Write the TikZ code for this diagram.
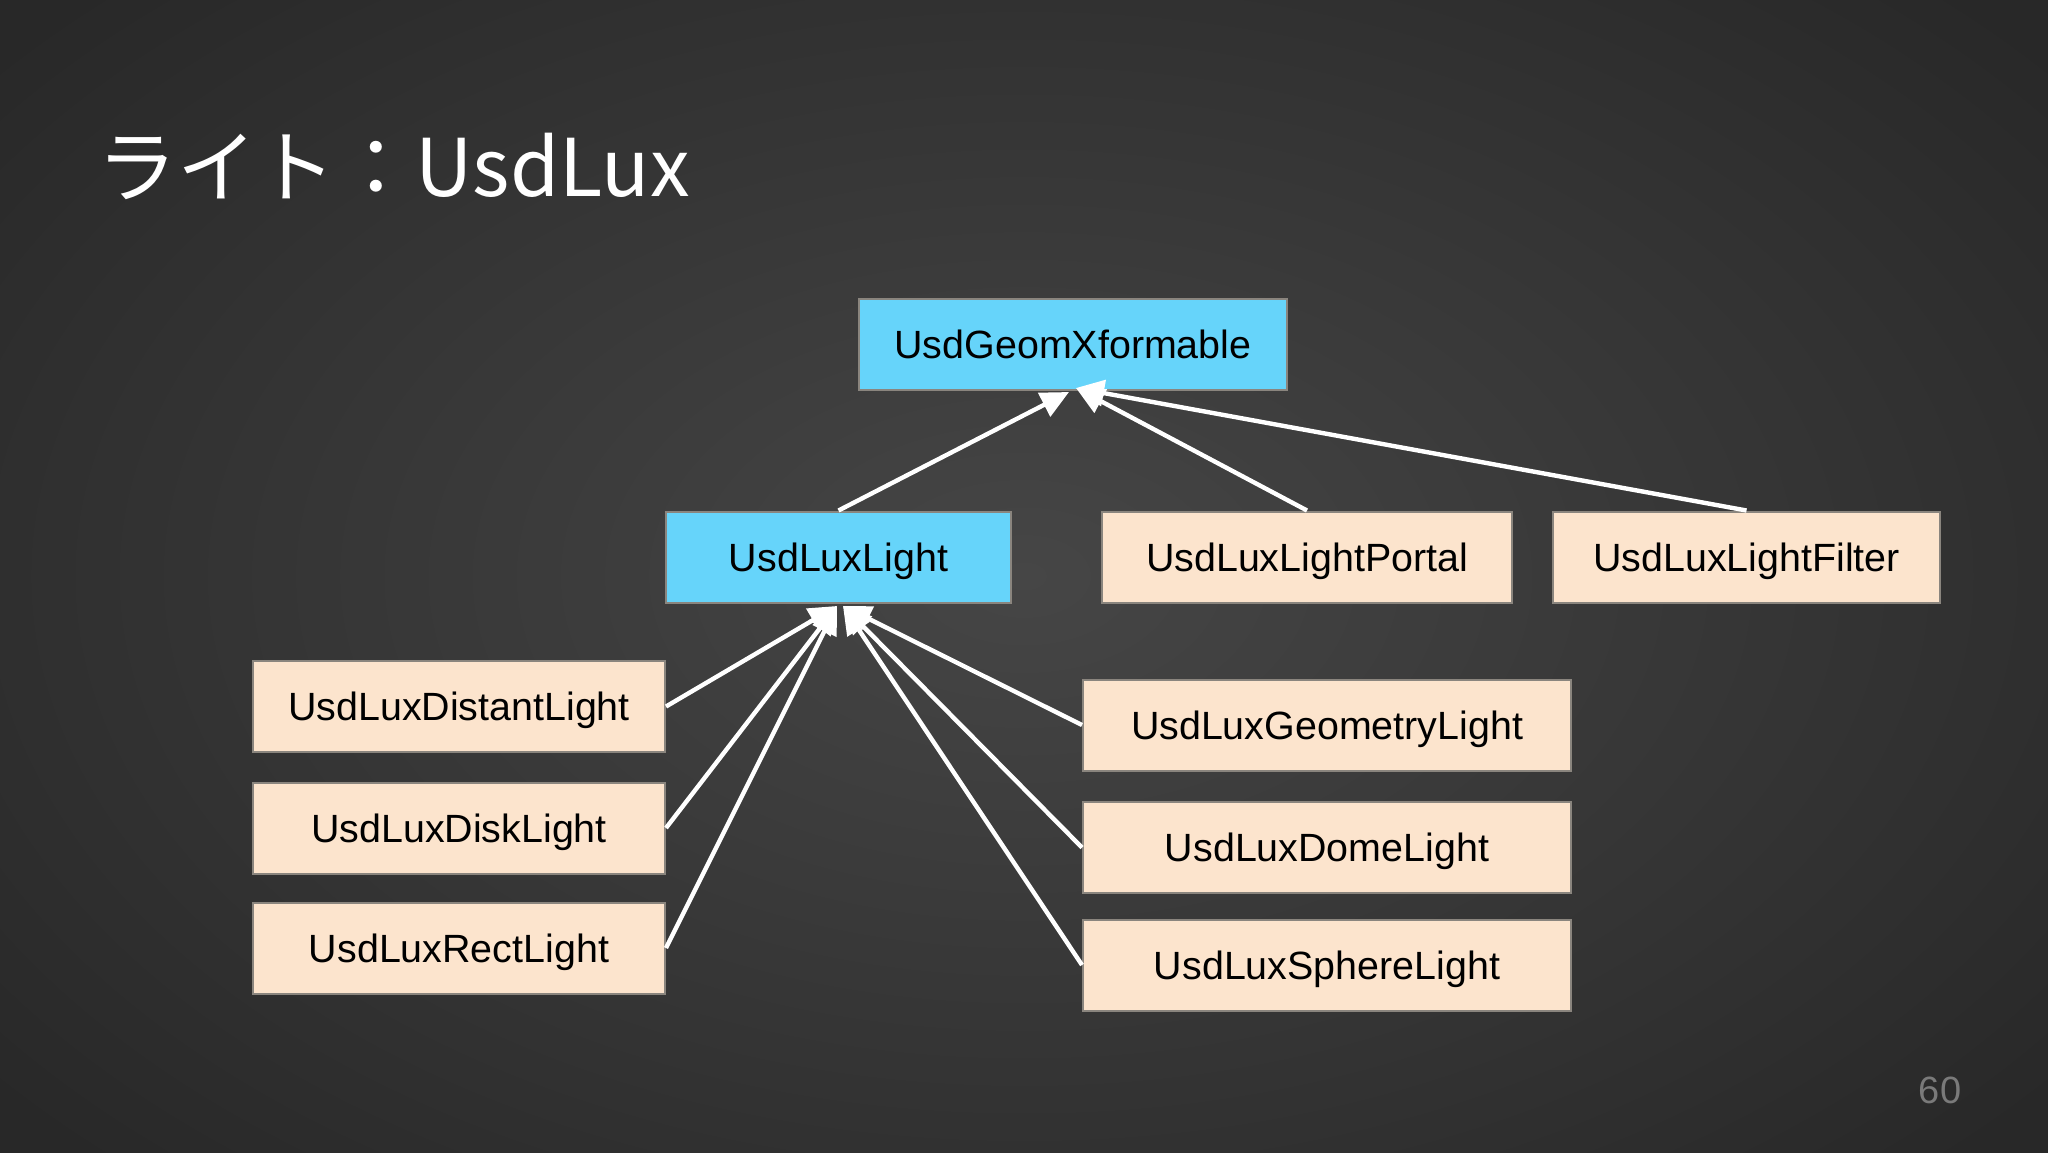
\documentclass[tikz,border=0pt]{standalone}
\usepackage{fontspec}
\setmainfont{Liberation Sans}
\newfontfamily\jpfont{Noto Sans CJK JP}
\usetikzlibrary{arrows.meta}
\definecolor{bluebox}{HTML}{66D4FA}
\definecolor{beigebox}{HTML}{FCE4CD}
\definecolor{boxline}{HTML}{8A857E}
\definecolor{bginner}{HTML}{464646}
\definecolor{bgouter}{HTML}{282828}
\definecolor{pagenum}{HTML}{7A7A7A}
\begin{document}
\begin{tikzpicture}[x=0.5pt,y=-0.5pt,
  lbox/.style={draw=boxline, line width=1pt, minimum height=45.5pt, inner sep=0pt,
    font=\fontsize{19.7pt}{22pt}\selectfont, text=black, text height=14.1pt, text depth=0pt},
  bluenode/.style={lbox, fill=bluebox},
  beigenode/.style={lbox, fill=beigebox},
  edge/.style={draw=white, line width=2.2pt, -{Triangle[length=14pt,width=13pt,fill=white]}}
]
\useasboundingbox (0,0) rectangle (2048,1152);
\shade[inner color=bginner, outer color=bgouter] (-300,-250) rectangle (2348,1402);

% title
\node[anchor=base west, inner sep=0pt, text=white, font=\jpfont\fontsize{39.8pt}{46pt}\selectfont] (title) at (97,196) {ライト：UsdLux};

% nodes
\node[bluenode, minimum width=214pt] (xf) at (1073,344) {UsdGeomXformable};
\node[bluenode, minimum width=172.5pt] (light) at (838.5,557) {UsdLuxLight};
\node[beigenode, minimum width=205pt] (portal) at (1307,557) {UsdLuxLightPortal};
\node[beigenode, minimum width=193.5pt] (filter) at (1746.5,557) {UsdLuxLightFilter};
\node[beigenode, minimum width=206pt] (distant) at (459,706.5) {UsdLuxDistantLight};
\node[beigenode, minimum width=206pt] (disk) at (459,828) {UsdLuxDiskLight};
\node[beigenode, minimum width=206pt] (rect) at (459,948) {UsdLuxRectLight};
\node[beigenode, minimum width=244pt] (geom) at (1327,725) {UsdLuxGeometryLight};
\node[beigenode, minimum width=244pt] (dome) at (1327,847.5) {UsdLuxDomeLight};
\node[beigenode, minimum width=244pt] (sphere) at (1327,965) {UsdLuxSphereLight};

% arrow targets
\coordinate (xfL) at (1069,392);
\coordinate (xfR) at (1076,388);
\coordinate (ltL) at (837,606);
\coordinate (ltR) at (843,606);

% connectors
\draw[edge] (light.north) -- (xfL);
\draw[edge] (portal.north) -- (xfR);
\draw[edge] (filter.north) -- (xfR);
\draw[edge] (distant.east) -- (ltL);
\draw[edge] (disk.east) -- (ltL);
\draw[edge] (rect.east) -- (ltL);
\draw[edge] (geom.west) -- (ltR);
\draw[edge] (dome.west) -- (ltR);
\draw[edge] (sphere.west) -- (ltR);

% page number
\node[text=pagenum, font=\fontsize{19pt}{22pt}\selectfont, inner sep=0pt] (pg) at (1940,1090) {60};
\end{tikzpicture}
\end{document}
